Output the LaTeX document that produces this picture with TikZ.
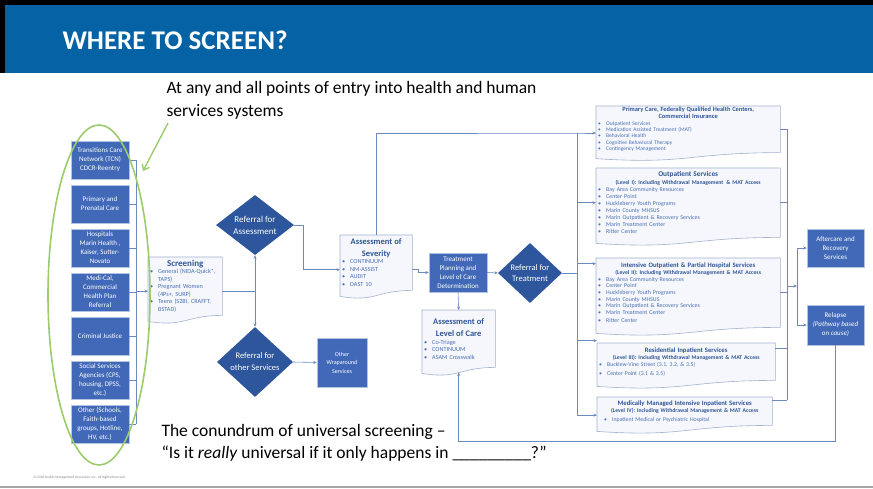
\documentclass[tikz,border=0pt]{standalone}
\usepackage{fontspec}
\setmainfont{Carlito}
\usepackage{tikz}
\usetikzlibrary{arrows.meta,positioning,shapes.geometric,calc,backgrounds}
\definecolor{headerblue}{HTML}{0563A5}
\definecolor{boxblue}{HTML}{4169B7}
\definecolor{darkblue}{HTML}{2E569C}
\definecolor{doctitle}{HTML}{2F5597}
\definecolor{doctext}{HTML}{4A6FB5}
\definecolor{docfill}{HTML}{F5F7FC}
\definecolor{docedge}{HTML}{A3B1CE}
\definecolor{linkblue}{HTML}{6C89C0}
\definecolor{ringgreen}{HTML}{9CCB6C}
\newcommand{\itm}{\makebox[8pt][l]{\textbullet}}
\newcommand{\cnt}{\hspace*{8pt}}
\newcommand{\dtitle}[3]{{\centering\bfseries\color{doctitle}\fontsize{#1}{#2}\selectfont #3\par}}
\newcommand{\docshape}[1]{%
  \draw[docline] (#1.north west) -- (#1.north east) -- (#1.south east)
    .. controls (#1.south) and ($(#1.south)+(0,12)$) .. ($(#1.south west)+(0,6)$) -- cycle;}

\begin{document}
\begin{tikzpicture}[x=1pt,y=-1pt,
    link/.style={draw=linkblue,line width=0.6pt},
    arrow/.style={link,-{Stealth[length=3.5pt,width=3pt]}},
    bluebox/.style={fill=boxblue,draw=boxblue!40!white,line width=0.5pt,text=white,align=center,inner sep=1pt,font=\fontsize{7}{9}\selectfont},
    srcbox/.style={bluebox,minimum width=58pt,minimum height=38pt},
    decision/.style={diamond,fill=darkblue,text=white,align=center,inner sep=-2pt,aspect=1.3,font=\fontsize{9}{12}\selectfont},
    docbox/.style={anchor=north west,inner xsep=2pt,inner ysep=1pt,text=doctext,font=\fontsize{6.2}{7.5}\selectfont,execute at begin node={\parindent=0pt\raggedright}},
    docline/.style={fill=docfill,draw=docedge,line width=0.6pt},
    slidetext/.style={anchor=north west,align=left,font=\fontsize{17.5}{23}\selectfont}
  ]
    \useasboundingbox (0,0) rectangle (873,489);
    \fill[black] (0,0) rectangle (873,5);
    \fill[black] (0,0) rectangle (5,73);
    \fill[headerblue] (5,5) rectangle (873,73);
    \node[anchor=west,text=white,font=\fontsize{27}{30}\selectfont\bfseries] (title) at (59,40) {WHERE TO SCREEN?};
    \draw[gray!70,line width=1.2pt] (0,487) -- (873,487);

    \node[slidetext] (points) at (163,78) {At any and all points of entry into health and human\\services systems};
    \node[slidetext,font=\fontsize{17.5}{22}\selectfont] (conundrum) at (158,421) {The conundrum of universal screening –\\“Is it \textit{really} universal if it only happens in \_\_\_\_\_\_\_\_\_?”};
    \node[anchor=west,text=gray,font=\fontsize{3.5}{4}\selectfont] (copy) at (30,478) {© 2020 Health Management Associates, Inc. All Rights Reserved.};

    \node[srcbox] (tcn) at (100,160) {Transitions Care\\Network (TCN)\\CDCR-Reentry};
    \node[srcbox,below=5.5pt of tcn] (prim) {Primary and\\Prenatal Care};
    \node[srcbox,below=5.5pt of prim] (hosp) {Hospitals\\Marin Health ,\\Kaiser, Sutter-\\Novato};
    \node[srcbox,below=5.5pt of hosp] (medi) {Medi-Cal,\\Commercial\\Health Plan\\Referral};
    \node[srcbox,below=5.5pt of medi] (crim) {Criminal Justice};
    \node[srcbox,below=5.5pt of crim] (social) {Social Services\\Agencies (CPS,\\housing, DPSS,\\etc.)};
    \node[srcbox,below=5.5pt of social] (other) {Other (Schools,\\Faith-based\\groups, Hotline,\\HV, etc.)};

    \node[docbox,text width=70pt,minimum height=58pt] (scr) at (148,257)
      {\dtitle{9}{11}{Screening}
       \itm General (NIDA-Quick*,\\\cnt TAPS)\\\itm Pregnant Women\\\cnt(4Ps+, SURP)\\\itm Teens (S2BI, CRAFFT,\\\cnt BSTAD)};
    \node[decision,minimum width=78pt,minimum height=60pt] (rfa) at (255,225) {Referral for\\Assessment};
    \node[decision,minimum width=76pt,minimum height=70pt,font=\fontsize{8.5}{12}\selectfont] (rfo) at (255,362) {Referral for\\other Services};
    \node[bluebox,minimum width=50pt,minimum height=49pt,font=\fontsize{6}{8.5}\selectfont] (wrap) at (342,362.5) {Other\\Wraparound\\Services};

    \node[docbox,text width=68pt,minimum height=55pt] (sev) at (340,235)
      {\dtitle{8.5}{11.5}{Assessment of\\Severity}
       \itm CONTINUUM\\\itm NM-ASSIST\\\itm AUDIT\\\itm DAST 10};
    \node[bluebox,minimum width=58pt,minimum height=39pt] (tp) at (458,272.5) {Treatment\\Planning and\\Level of Care\\Determination};
    \node[decision,aspect=1.1,minimum width=64pt,minimum height=60pt,font=\fontsize{8.5}{11.5}\selectfont] (rft) at (530,273) {Referral for\\Treatment};
    \node[docbox,text width=69pt,minimum height=57pt] (loc) at (422,310)
      {\dtitle{8.5}{12.5}{Assessment of\\Level of Care}
       \itm Co-Triage\\\itm CONTINUUM\\\itm ASAM Crosswalk};

    \node[docbox,text width=180pt,minimum height=46pt,font=\fontsize{5.5}{6.3}\selectfont] (pc) at (596,106)
      {\dtitle{6.4}{7.3}{Primary Care, Federally Qualified Health Centers,\\Commercial Insurance}
       \itm Outpatient Services\\\itm Medication Assisted Treatment (MAT)\\\itm Behavioral Health\\\itm Cognitive Behavioral Therapy\\\itm Contingency Management};
    \node[docbox,text width=180pt,minimum height=69pt,font=\fontsize{5.9}{7}\selectfont] (op) at (596,168)
      {\dtitle{7.3}{8.8}{Outpatient Services}
       \dtitle{5.7}{8}{(Level I): Including Withdrawal Management \,\& MAT Access}
       \itm Bay Area Community Resources\\\itm Center Point\\\itm Huckleberry Youth Programs\\\itm Marin County MHSUS\\\itm Marin Outpatient \& Recovery Services\\\itm Marin Treatment Center\\\itm Ritter Center};
    \node[docbox,text width=180pt,minimum height=69pt,font=\fontsize{5.9}{6.6}\selectfont] (ip) at (596,258)
      {\dtitle{6.7}{8.6}{Intensive Outpatient \& Partial Hospital Services}
       \dtitle{5.7}{7.4}{(Level II): Including Withdrawal Management \& MAT Access}
       \itm Bay Area Community Resources\\\itm Center Point\\\itm Huckleberry Youth Programs\\\itm Marin County MHSUS\\\itm Marin Outpatient \& Recovery Services\\\itm Marin Treatment Center\\[2pt]\itm Ritter Center};
    \node[docbox,text width=174pt,minimum height=37pt,font=\fontsize{5.8}{7.5}\selectfont] (res) at (597,343)
      {\dtitle{6.7}{8.6}{Residential Inpatient Services}
       \dtitle{5.7}{7}{(Level III): Including Withdrawal Management \& MAT Access}
       \itm Bucklew-Vine Street (3.1, 3.2, \& 3.5)\\[1pt]\itm Center Point (3.1 \& 3.5)};
    \node[docbox,text width=171pt,minimum height=28pt,font=\fontsize{5.8}{7}\selectfont] (med) at (597,397)
      {\dtitle{6.7}{8.4}{Medically Managed Intensive Inpatient Services}
       \dtitle{5.7}{7}{(Level IV): Including Withdrawal Management \& MAT Access}
       \vspace{2pt}\hspace*{5pt}\itm Inpatient Medical or Psychiatric Hospital};

    \node[bluebox,minimum width=57pt,minimum height=38pt] (aft) at (835.5,248) {Aftercare and\\Recovery\\Services};
    \node[bluebox,minimum width=57pt,minimum height=40pt] (rel) at (835.5,325) {Relapse\\\textit{(Pathway based}\\\textit{on cause)}};

    \begin{scope}[on background layer]
      \foreach \d in {scr,sev,loc,pc,op,ip,res,med} {\docshape{\d}}
    \end{scope}

    \coordinate (lbus) at (136,0);
    \foreach \b in {tcn,prim,hosp,medi,crim,social,other}
      \draw[link] (\b.east) -- (\b.east -| lbus);
    \draw[link] (tcn.east -| lbus) -- (other.east -| lbus);
    \coordinate (scrin) at ([yshift=-5pt]scr.west);
    \draw[arrow] (scrin -| lbus) -- (scrin);

    \coordinate (scrout) at ([yshift=-5pt]scr.east);
    \coordinate (sj) at (scrout -| rfa.south);
    \draw[link] (scrout) -- (sj);
    \draw[arrow] (sj) -- (rfa.south);
    \draw[arrow] (sj) -- (rfo.north);
    \draw[arrow] (rfo.east) -- (wrap.west);

    \coordinate (sevin) at ([yshift=-7pt]sev.west);
    \coordinate (sevout) at ([yshift=-7pt]sev.east);
    \draw[arrow] (rfa.east) -- ++(9,0) |- (sevin);
    \draw[arrow] (sevout) -- ++(6,0) |- (tp.west);
    \draw[arrow] (tp.east) -- (rft.west);
    \draw[arrow] (tp.south) -- (loc.north);

    \coordinate (mbus) at (577,133);
    \coordinate (ipin) at ([yshift=29pt]ip.west);
    \coordinate (resin) at ([yshift=21pt]res.west);
    \coordinate (medin) at ([yshift=-4pt]med.west);
    \draw[arrow] (sev.north) |- (mbus) -- (mbus -| pc.west);
    \draw[link] (mbus) -- (mbus |- medin);
    \draw[link] (rft.east) -- (rft.east -| mbus);
    \foreach \t in {op.west,ipin,resin,medin}
      \draw[arrow] (mbus |- \t) -- (\t);

    \coordinate (rbus) at (787,0);
    \coordinate (resout) at ([yshift=13pt]res.east);
    \coordinate (medout) at ([yshift=11pt]med.east);
    \foreach \s in {pc.east,op.east,ip.east,resout,medout}
      \draw[link] (\s) -- (\s -| rbus);
    \draw[link] (pc.east -| rbus) -- (medout -| rbus);
    \coordinate (rj) at (787,286);
    \coordinate (split) at (797,286);
    \draw[arrow] (rj) -- (split);
    \draw[arrow] (split) |- (aft.west);
    \draw[arrow] (split) |- (rel.west);

    \coordinate (locin) at ([yshift=-5pt]loc.south);
    \draw[arrow] (rel.south) -- ++(0,96) -| (locin);

    \node[draw=ringgreen,line width=1.6pt,ellipse,minimum width=102pt,minimum height=340pt] (ring) at (99,295) {};
    \coordinate (ringtip) at (143,171);
    \draw[draw=ringgreen,line width=1.4pt,-{Straight Barb[length=5pt,width=8pt]}] ([xshift=5pt]points.south west) -- (ringtip);
\end{tikzpicture}
\end{document}
